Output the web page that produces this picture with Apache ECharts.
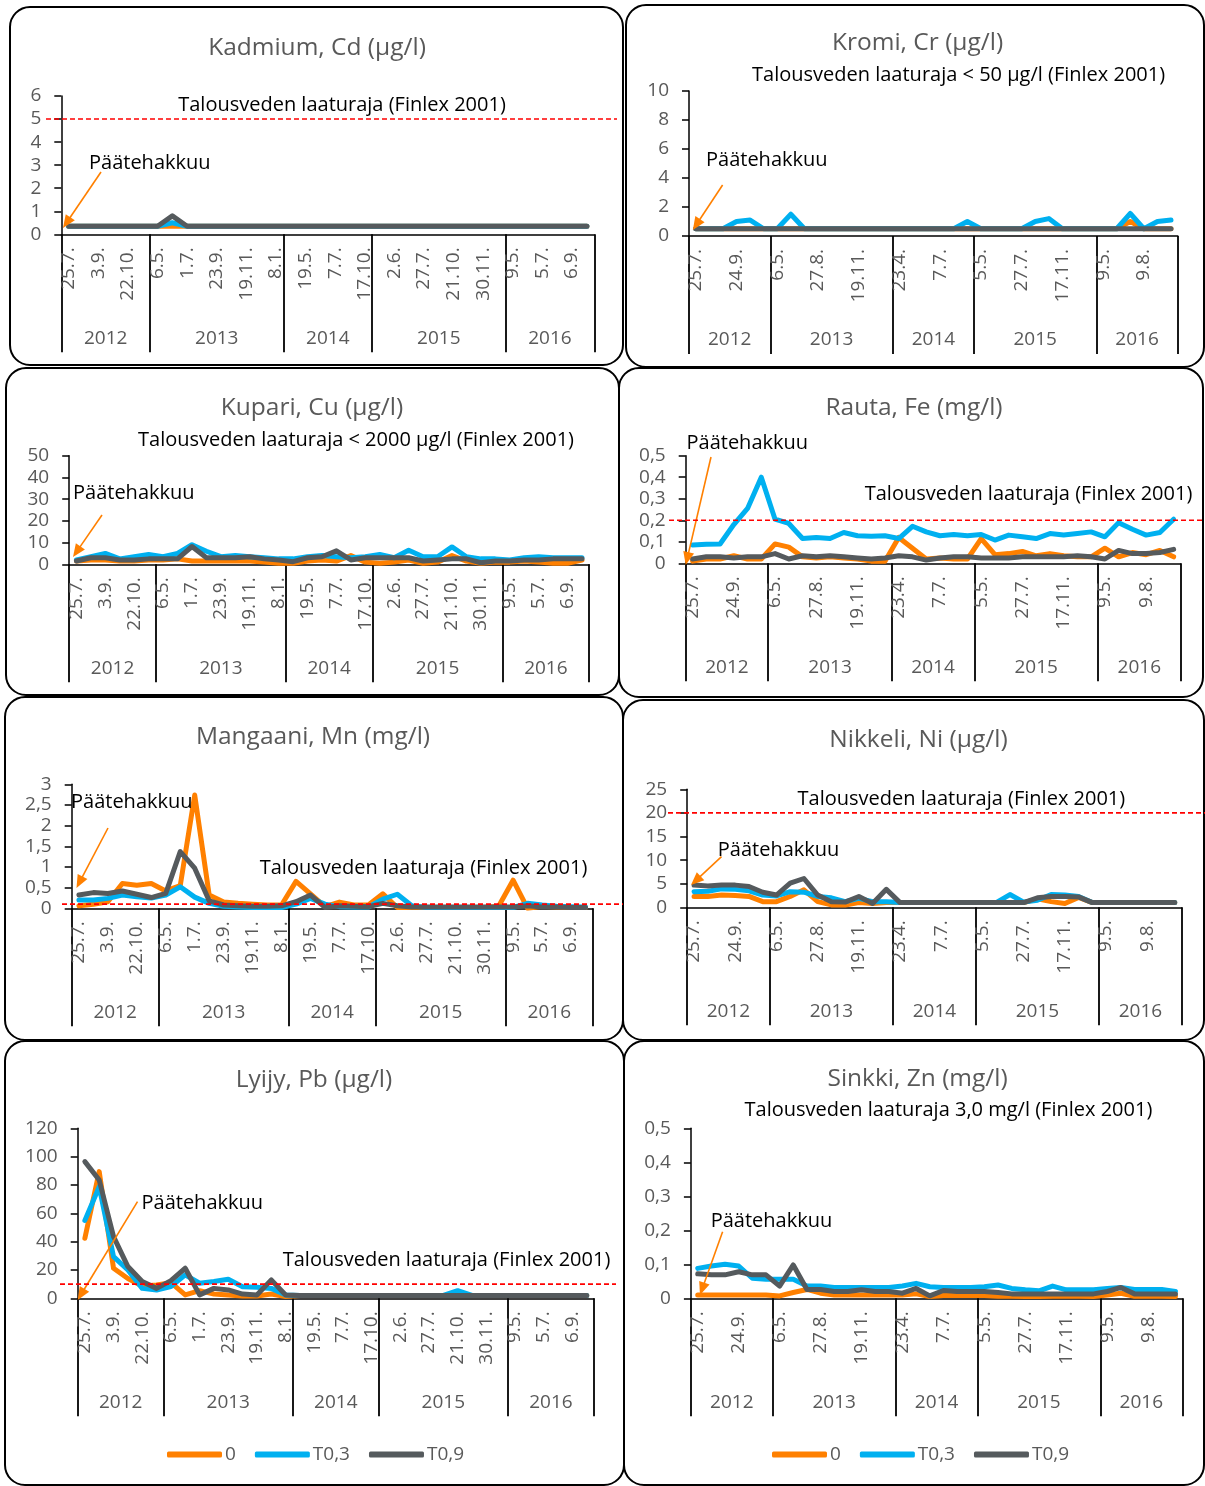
<!DOCTYPE html>
<html><head><meta charset="utf-8">
<script src="https://cdn.jsdelivr.net/npm/echarts@6/dist/echarts.min.js"></script>
<style>html,body{margin:0;padding:0;background:#fff}#c{width:1205px;height:1486px}</style>
</head><body><div id="c"></div>
<script>
// ---------- data ----------
const dates = ['25.7.','','3.9.','24.9.','22.10.','','6.5.','','1.7.','27.8.','23.9.','','19.11.','','8.1.','23.4.','19.5.','','7.7.','','17.10.','5.5.','2.6.','','27.7.','','21.10.','17.11.','30.11.','','9.5.','','5.7.','9.8.','6.9.',''];
const years = ['2012','2013','2014','2015','2016'];
const yearCounts = [6,9,6,9,6];
const seriesNames = ['0','T0,3','T0,9'];

const cdO = [0.35,0.35,0.35,0.35,0.35,0.35,0.35,0.35,0.35,0.35,0.35,0.35,0.35,0.35,0.35,0.35,0.35,0.35,0.35,0.35,0.35,0.35,0.35,0.35,0.35,0.35,0.35,0.35,0.35,0.35,0.35,0.35,0.35,0.35,0.35,0.35];
const cdB = [0.35,0.35,0.35,0.35,0.35,0.35,0.35,0.5,0.35,0.35,0.35,0.35,0.35,0.35,0.35,0.35,0.35,0.35,0.35,0.35,0.35,0.35,0.35,0.35,0.35,0.35,0.35,0.35,0.35,0.35,0.35,0.35,0.35,0.35,0.35,0.35];
const cdG = [0.35,0.35,0.35,0.35,0.35,0.35,0.35,0.8,0.35,0.35,0.35,0.35,0.35,0.35,0.35,0.35,0.35,0.35,0.35,0.35,0.35,0.35,0.35,0.35,0.35,0.35,0.35,0.35,0.35,0.35,0.35,0.35,0.35,0.35,0.35,0.35];

const crO = [0.5,0.5,0.5,0.5,0.5,0.5,0.5,0.5,0.5,0.5,0.5,0.5,0.5,0.5,0.5,0.5,0.5,0.5,0.5,0.5,0.5,0.5,0.5,0.5,0.5,0.5,0.5,0.5,0.5,0.5,0.5,0.5,1.0,0.5,0.5,0.5];
const crB = [0.5,0.5,0.5,1.0,1.1,0.5,0.5,1.5,0.5,0.5,0.5,0.5,0.5,0.5,0.5,0.5,0.5,0.5,0.5,0.5,1.0,0.5,0.5,0.5,0.5,1.0,1.2,0.5,0.5,0.5,0.5,0.5,1.55,0.5,1.0,1.1];
const crG = [0.5,0.5,0.5,0.5,0.5,0.5,0.5,0.5,0.5,0.5,0.5,0.5,0.5,0.5,0.5,0.5,0.5,0.5,0.5,0.5,0.5,0.5,0.5,0.5,0.5,0.5,0.5,0.5,0.5,0.5,0.5,0.5,0.5,0.5,0.5,0.5];

const cuO = [1.5,2,2,1.5,1.5,2,2,2.5,1.5,1.5,1.5,1.5,1.5,1,0.5,0.5,1.5,2,1.5,4,1,0.5,1,2,0.5,1,4,1.5,0.5,1,1,1.5,1,0.5,0.5,2];
const cuB = [2,3.5,5,2.5,3.5,4.5,3.5,5,9,6,3.5,4,3.5,3,2.5,2.5,3.5,4,3.5,3,3.5,4.5,3,6.5,3.5,3.5,8,3.5,2.5,2.5,2,3,3.5,3,3,3];
const cuG = [1.5,3,3,2,2,2.5,2.5,2.5,8.2,3,3,3,3.5,2.5,2,1.2,3,3.5,6.2,2,3,3,3,3,1.5,2,2.5,2.5,0.7,1.5,1.5,2,2,2.5,2.5,2.5];

const feO = [0.01,0.02,0.02,0.035,0.02,0.02,0.09,0.075,0.03,0.025,0.03,0.025,0.02,0.01,0.01,0.12,0.07,0.02,0.025,0.02,0.02,0.115,0.04,0.045,0.055,0.035,0.045,0.035,0.03,0.03,0.07,0.03,0.05,0.04,0.06,0.03];
const feB = [0.085,0.088,0.09,0.18,0.255,0.40,0.205,0.185,0.115,0.12,0.115,0.143,0.128,0.126,0.128,0.115,0.172,0.146,0.128,0.134,0.128,0.134,0.108,0.131,0.123,0.115,0.138,0.131,0.138,0.146,0.123,0.189,0.158,0.131,0.143,0.205];
const feG = [0.02,0.03,0.03,0.025,0.03,0.03,0.045,0.02,0.035,0.03,0.035,0.03,0.025,0.02,0.025,0.035,0.03,0.015,0.025,0.03,0.03,0.025,0.025,0.025,0.03,0.03,0.03,0.03,0.035,0.03,0.02,0.06,0.045,0.045,0.05,0.065];

const mnO = [0.06,0.1,0.16,0.6,0.56,0.6,0.42,0.55,2.74,0.32,0.15,0.12,0.1,0.08,0.08,0.65,0.35,0.04,0.15,0.08,0.08,0.35,0.02,0.02,0.02,0.02,0.02,0.02,0.02,0.05,0.68,0.0,0.05,0.03,0.02,0.02];
const mnB = [0.2,0.2,0.24,0.32,0.28,0.25,0.32,0.52,0.27,0.12,0.05,0.03,0.02,0.02,0.02,0.1,0.24,0.1,0.04,0.03,0.03,0.22,0.34,0.06,0.02,0.02,0.02,0.02,0.02,0.02,0.02,0.12,0.08,0.05,0.04,0.03];
const mnG = [0.32,0.38,0.36,0.42,0.34,0.26,0.36,1.37,0.97,0.18,0.08,0.06,0.05,0.05,0.06,0.16,0.32,0.02,0.06,0.05,0.04,0.12,0.06,0.03,0.03,0.03,0.03,0.03,0.03,0.03,0.03,0.06,0.03,0.03,0.02,0.02];

const niO = [2.3,2.3,2.6,2.5,2.3,1.2,1.2,2.3,3.7,1.2,0.5,0.5,1.0,0.8,1.0,1,1,1,1,1,1,1,1,1,1,1.8,1.2,0.8,2.1,1.0,1,1,1,1,1,1];
const niB = [3.3,3.4,3.9,3.8,3.5,2.6,2.4,3.3,3.2,2.3,2.0,1.2,1.9,1.2,1.2,1.0,1,1,1,1,1,1,1,2.7,1.1,1.5,2.7,2.6,2.3,1.0,1,1,1,1,1,1];
const niG = [4.7,4.5,4.7,4.7,4.4,3.2,2.6,5.1,6.1,2.6,1.2,1.1,2.3,0.8,3.8,1.0,1,1,1,1,1,1,1,1,1.0,2.0,2.3,2.3,2.2,1.0,1,1,1,1,1,1];

const pbO = [42.4,89.4,21.2,14,8.7,9.4,11,2.4,5.4,3,2.4,1.6,1.6,3,1.2,2,2,2,2,2,2,2,2,2,2,2,2,2,2,2,2,2,2,2,2,2];
const pbB = [55,78.8,29.4,20,7,5.9,8.2,16.5,10.6,11.8,13.4,8.2,7.8,7,2.4,2,2,2,2,2,2,2,2,2,2,2,5.4,2,2,2,2,2,2,2,2,2];
const pbG = [96.5,83.5,43.5,22.4,11.8,7,12.5,21.2,2.4,7,5.9,3,2.4,13,2.4,2,2,2,2,2,2,2,2,2,2,2,2,2,2,2,2,2,2,2,2,2];

const znO = [0.01,0.01,0.01,0.01,0.01,0.01,0.007,0.017,0.026,0.015,0.01,0.01,0.01,0.01,0.01,0.01,0.013,0.005,0.008,0.008,0.008,0.008,0.006,0.006,0.005,0.005,0.006,0.006,0.006,0.005,0.01,0.015,0.006,0.006,0.006,0.005];
const znB = [0.088,0.095,0.1,0.095,0.059,0.056,0.056,0.056,0.036,0.036,0.032,0.032,0.032,0.032,0.032,0.036,0.044,0.034,0.032,0.032,0.032,0.034,0.039,0.029,0.025,0.022,0.036,0.025,0.025,0.025,0.029,0.032,0.026,0.026,0.026,0.02];
const znG = [0.072,0.069,0.069,0.078,0.069,0.069,0.036,0.098,0.026,0.026,0.02,0.02,0.025,0.02,0.02,0.015,0.029,0.007,0.023,0.02,0.02,0.02,0.017,0.013,0.013,0.013,0.013,0.013,0.013,0.013,0.02,0.032,0.013,0.013,0.013,0.013];

const titles = ['Kadmium, Cd (µg/l)','Kromi, Cr (µg/l)','Kupari, Cu (µg/l)','Rauta, Fe (mg/l)','Mangaani, Mn (mg/l)','Nikkeli, Ni (µg/l)','Lyijy, Pb (µg/l)','Sinkki, Zn (mg/l)'];
const limitValues = [5, 50, 2000, 0.2, 0.1, 20, 10, 3.0];
const limitTexts = ['Talousveden laaturaja (Finlex 2001)','Talousveden laaturaja < 50 µg/l (Finlex 2001)','Talousveden laaturaja < 2000 µg/l (Finlex 2001)','Talousveden laaturaja (Finlex 2001)','Talousveden laaturaja (Finlex 2001)','Talousveden laaturaja (Finlex 2001)','Talousveden laaturaja (Finlex 2001)','Talousveden laaturaja 3,0 mg/l (Finlex 2001)'];
const yMax = [6, 10, 50, 0.5, 3, 25, 120, 0.5];
const yStep = [1, 2, 10, 0.1, 0.5, 5, 20, 0.1];
const panelData = [[cdO,cdB,cdG],[crO,crB,crG],[cuO,cuB,cuG],[feO,feB,feG],[mnO,mnB,mnG],[niO,niB,niG],[pbO,pbB,pbG],[znO,znB,znG]];
const annotation = 'Päätehakkuu';

// ---------- layout ----------
const FONT = '"Open Sans", "DejaVu Sans", sans-serif';
const GREY = '#595959';
const COLORS = ['#FF8000', '#00B0F0', '#555A5D'];
const ORANGE = '#FF8000';
const layout = [
  {grid:[61.3,96,533,138.3],  labelEvery:2, box:[10,7,613,358],  title:[317,48],    lim:[342,105],    p:[89,163],    arrow:[[101,172],[63,228]], limSpan:[46,617]},
  {grid:[689,91,488.8,145],   labelEvery:3, box:[626,5,578,362], title:[917.6,43],  lim:[958.6,75],   p:[706,160],   arrow:[[722.6,185],[692.8,230]], limSpan:null},
  {grid:[69.2,455.7,520,108.6],labelEvery:2, box:[6,368,613,327], title:[312,408],   lim:[356,440],    p:[73,493],    arrow:[[102,515],[73,557]], limSpan:null},
  {grid:[685.7,455.7,494.8,107.6],labelEvery:3, box:[619,368,584,329], title:[914,408], lim:[1028.5,494], p:[686.5,443], arrow:[[711,457],[685.7,565]], limSpan:[669,1205]},
  {grid:[71.7,784.3,521,124], labelEvery:2, box:[5,697,618,343], title:[313,737],   lim:[423.5,868],  p:[71,802],    arrow:[[108,828],[76.5,888]], limSpan:[62,623]},
  {grid:[687.2,789.3,494.4,118],labelEvery:3, box:[623,700,581,340], title:[918.5,740], lim:[961.4,799], p:[717.8,850], arrow:[[721.5,856.7],[691,885]], limSpan:[668,1205]},
  {grid:[77.7,1128.3,516.2,170],labelEvery:2, box:[5,1041,619,444], title:[314,1080], lim:[446.5,1260], p:[141.5,1203], arrow:[[137.5,1201.7],[77.7,1300]], limSpan:[60,616]},
  {grid:[690.9,1128.3,491.4,170],labelEvery:3, box:[624,1041,580,444], title:[917.6,1079], lim:[948.4,1110], p:[710.7,1221.7], arrow:[[722.6,1231.7],[700,1295]], limSpan:null}
];
const legendPos = [[162,1440],[767,1440]];

// year axis slots: half-category resolution, boundaryGap false
const totalCats = yearCounts.reduce((a,b)=>a+b,0);
const yearSlots = new Array(totalCats*2+1).fill('');
const boundarySlots = new Set([0]);
let acc = 0;
yearCounts.forEach((n,k)=>{ yearSlots[acc*2+n] = years[k]; acc += n; boundarySlots.add(acc*2); });

function fmt(v){ return (Math.round(v*1000)/1000).toString().replace('.', ','); }

const grids=[], xAxes=[], yAxes=[], series=[], graphics=[];
layout.forEach((L,i)=>{
  grids.push({left:L.grid[0], top:L.grid[1], width:L.grid[2], height:L.grid[3], containLabel:false, outerBoundsMode:'none'});
  xAxes.push({type:'category', gridIndex:i, data:dates, position:'bottom', boundaryGap:true,
    axisLine:{show:true, onZero:false, lineStyle:{color:'#000', width:1.5}},
    axisTick:{show:false}, splitLine:{show:false},
    axisLabel:{show:true, rotate:90, margin:13, color:GREY, fontSize:19, fontFamily:FONT,
      interval:(idx)=> idx % L.labelEvery === 0}});
  xAxes.push({type:'category', gridIndex:i, data:yearSlots, position:'bottom', boundaryGap:false,
    axisLine:{show:false}, splitLine:{show:false},
    axisTick:{show:true, length:118, interval:(idx)=>boundarySlots.has(idx), lineStyle:{color:'#000', width:1.8}},
    axisLabel:{show:true, margin:94, color:GREY, fontSize:19, fontFamily:FONT, lineHeight:20,
      interval:(idx)=> yearSlots[idx] !== ''}});
  yAxes.push({type:'value', gridIndex:i, min:0, max:yMax[i], interval:yStep[i],
    axisLine:{show:true, lineStyle:{color:'#000', width:1.5}},
    axisTick:{show:true, length:7, lineStyle:{color:'#000', width:1.5}},
    splitLine:{show:false},
    axisLabel:{color:GREY, fontSize:19, fontFamily:FONT, margin:20, formatter:fmt}});
  panelData[i].forEach((arr,s)=>{
    series.push({type:'line', name:seriesNames[s], xAxisIndex:2*i, yAxisIndex:i, data:arr,
      showSymbol:false, symbol:'none', smooth:false,
      lineStyle:{color:COLORS[s], width:5, cap:'round', join:'round'},
      itemStyle:{color:COLORS[s]}, z:2+s});
  });
});

const legends = legendPos.map(p=>({show:true, left:p[0], top:p[1], orient:'horizontal',
  data:seriesNames, icon:'roundRect', itemWidth:55, itemHeight:6, itemGap:19,
  textStyle:{color:GREY, fontSize:19, fontFamily:FONT, padding:[0,0,0,-2]}, selectedMode:false}));

const chart = echarts.init(document.getElementById('c'), null, {renderer:'canvas'});
chart.setOption({
  animation:false,
  backgroundColor:'#fff',
  textStyle:{fontFamily:FONT},
  grid:grids, xAxis:xAxes, yAxis:yAxes, series:series,
  legend:legends
});

// annotations (limit lines positioned through the library's y scale)
layout.forEach((L,i)=>{
  graphics.push({type:'rect', silent:true, shape:{x:L.box[0], y:L.box[1], width:L.box[2], height:L.box[3], r:20},
    style:{fill:'none', stroke:'#000', lineWidth:2}, z:1});
  graphics.push({type:'text', silent:true, x:L.title[0], y:L.title[1],
    style:{text:titles[i], font:'24.5px '+FONT, fill:GREY, textAlign:'center', textVerticalAlign:'middle'}, z:5});
  graphics.push({type:'text', silent:true, x:L.lim[0], y:L.lim[1],
    style:{text:limitTexts[i], font:'20px '+FONT, fill:'#000', textAlign:'center', textVerticalAlign:'middle'}, z:5});
  graphics.push({type:'text', silent:true, x:L.p[0], y:L.p[1],
    style:{text:annotation, font:'20px '+FONT, fill:'#000', textAlign:'left', textVerticalAlign:'middle'}, z:5});
  if (L.limSpan && limitValues[i] <= yMax[i]) {
    const yPix = chart.convertToPixel({yAxisIndex:i}, limitValues[i]);
    graphics.push({type:'line', silent:true, shape:{x1:L.limSpan[0], y1:yPix, x2:L.limSpan[1], y2:yPix},
      style:{stroke:'#FF0000', lineWidth:1.6, lineDash:[5,3]}, z:20});
  }
  const p0=L.arrow[0], p1=L.arrow[1];
  const dx=p1[0]-p0[0], dy=p1[1]-p0[1], len=Math.hypot(dx,dy), ux=dx/len, uy=dy/len;
  const hl=13, hw=5.5, bx=p1[0]-ux*hl, by=p1[1]-uy*hl;
  graphics.push({type:'line', silent:true, shape:{x1:p0[0], y1:p0[1], x2:bx+ux, y2:by+uy},
    style:{stroke:ORANGE, lineWidth:1.6}, z:6});
  graphics.push({type:'polygon', silent:true, shape:{points:[[p1[0],p1[1]],[bx-uy*hw,by+ux*hw],[bx+uy*hw,by-ux*hw]]},
    style:{fill:ORANGE}, z:6});
});
chart.setOption({graphic:{elements:graphics}});
</script></body></html>
